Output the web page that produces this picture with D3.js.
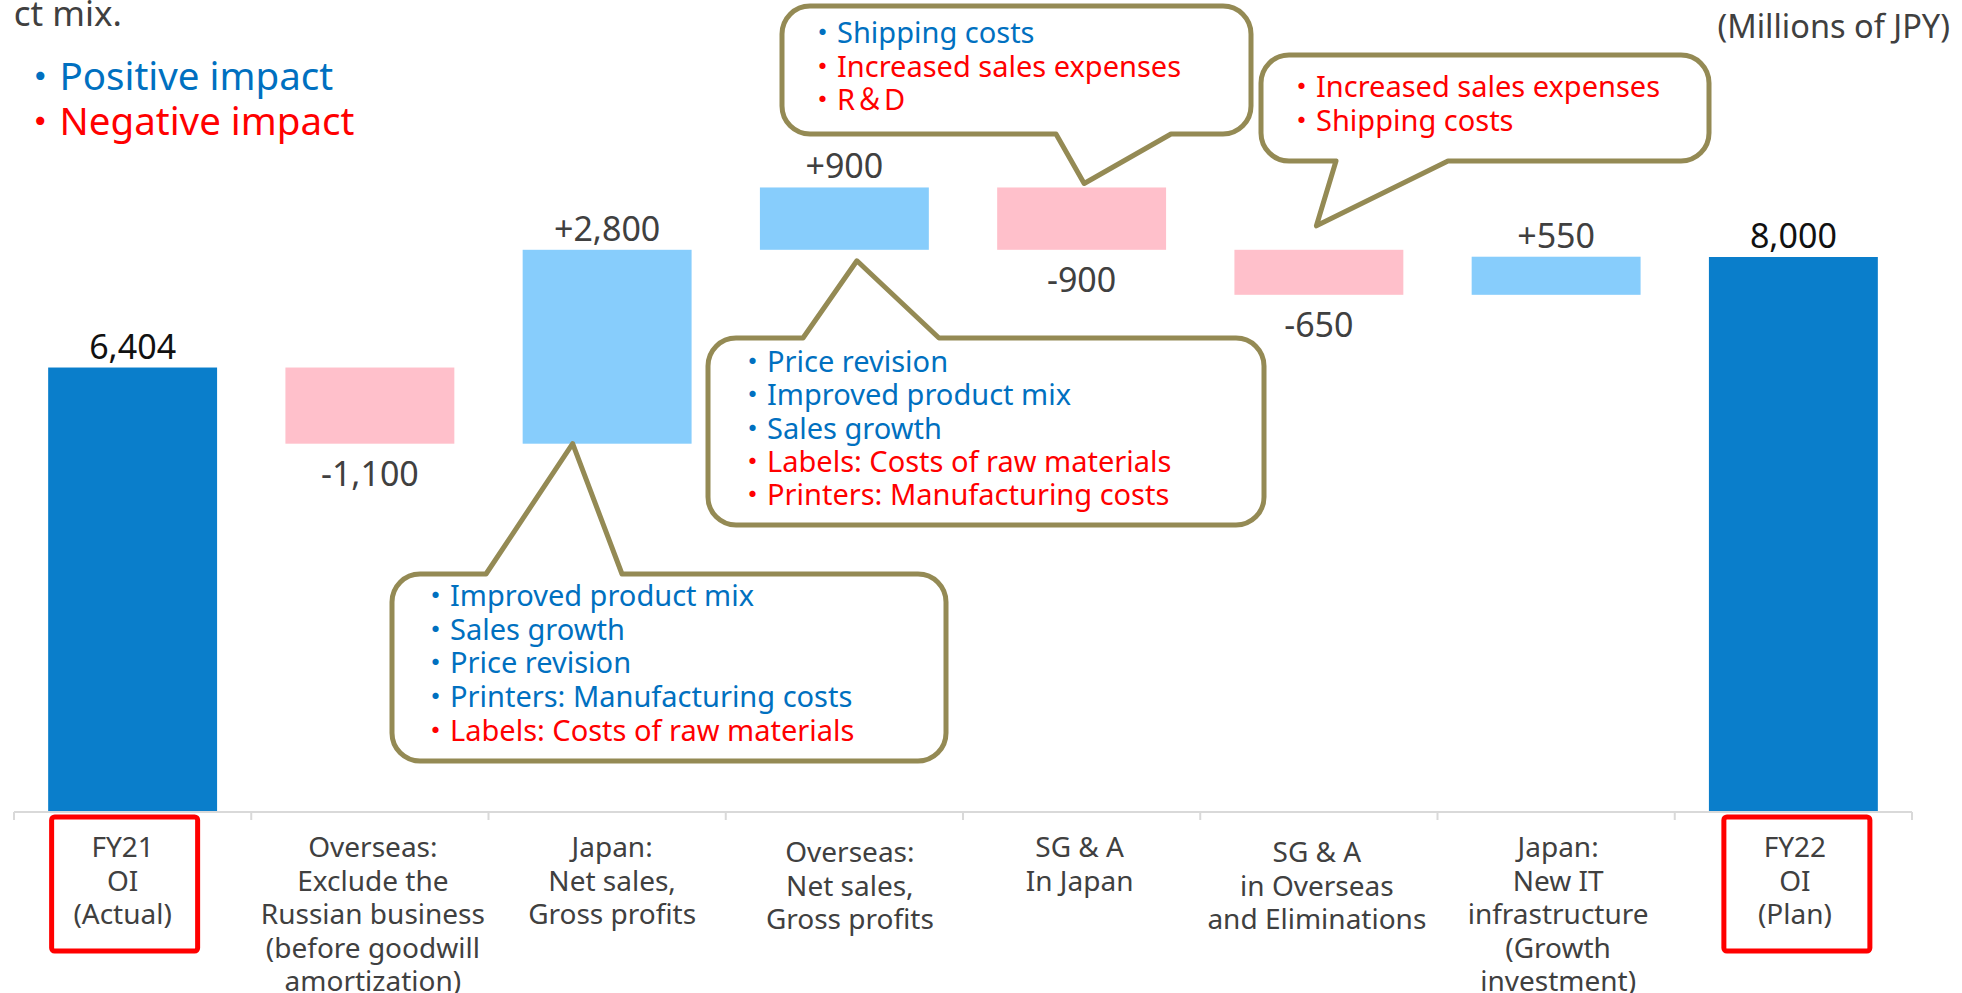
<!DOCTYPE html>
<html>
<head>
<meta charset="utf-8">
<script src="https://cdn.jsdelivr.net/npm/d3@7"></script>
<style>
  body { margin: 0; background: #fff; }
  svg { display: block; }
  text { font-family: "Noto Sans", "Noto Sans CJK JP", sans-serif; }
</style>
</head>
<body>
<div id="chart"></div>
<script>
// ---- data ----
const categories = [
  ["FY21", "OI", "(Actual)"],
  ["Overseas:", "Exclude the", "Russian business", "(before goodwill", "amortization)"],
  ["Japan:", "Net sales,", "Gross profits"],
  ["Overseas:", "Net sales,", "Gross profits"],
  ["SG & A", "In Japan"],
  ["SG & A", "in Overseas", "and Eliminations"],
  ["Japan:", "New IT", "infrastructure", "(Growth", "investment)"],
  ["FY22", "OI", "(Plan)"]
];
const values = [6404, -1100, 2800, 900, -900, -650, 550, 8000];
const barTypes = ["total", "delta", "delta", "delta", "delta", "delta", "delta", "total"];
const highlighted = [0, 7];

const unitLabel = "(Millions of JPY)";
const headText = "ct mix.";
const legendLabels = ["Positive impact", "Negative impact"];
const legendSigns = ["pos", "neg"];

const notesJapanSales = ["Improved product mix", "Sales growth", "Price revision", "Printers: Manufacturing costs", "Labels: Costs of raw materials"];
const signsJapanSales = ["pos", "pos", "pos", "pos", "neg"];
const notesOverseasSales = ["Price revision", "Improved product mix", "Sales growth", "Labels: Costs of raw materials", "Printers: Manufacturing costs"];
const signsOverseasSales = ["pos", "pos", "pos", "neg", "neg"];
const notesSgaJapan = ["Shipping costs", "Increased sales expenses", "R\uFF06D"];
const signsSgaJapan = ["pos", "neg", "neg"];
const notesSgaOverseas = ["Increased sales expenses", "Shipping costs"];
const signsSgaOverseas = ["neg", "neg"];

// ---- layout ----
const W = 1962, H = 993;
const signColor = {pos: "#0070c0", neg: "#ff0000"};
const barColor = {total: "#0a7ecb", up: "#87cdfc", down: "#ffc0cb"};
// small nudges of the category labels, as in the slide
const labelShift = [-10, 3, 5, 5.5, -2, -2, 2, 1.5];
const labelDrop = [0, 0, 0, 5, 0, 5, 0, 0];

const svg = d3.select("#chart").append("svg")
  .attr("width", W)
  .attr("height", H);

const x = d3.scaleBand()
  .domain(d3.range(categories.length))
  .range([14, 1912])
  .paddingInner(0.288)
  .paddingOuter(0.144);

const y = d3.scaleLinear()
  .domain([0, 8000])
  .range([811, 257]);

// waterfall steps
let run = 0;
const bars = values.map(function(v, i) {
  let lo, hi;
  if (barTypes[i] === "total") {
    lo = 0; hi = v; run = v;
  } else {
    lo = Math.min(run, run + v); hi = Math.max(run, run + v); run += v;
  }
  return {i: i, v: v, type: barTypes[i], lo: lo, hi: hi};
});

// top-left cut text and unit
svg.append("text")
  .attr("x", 122).attr("y", 26)
  .attr("text-anchor", "end")
  .attr("font-size", 35)
  .attr("fill", "#404040")
  .text(headText);

svg.append("text")
  .attr("x", 1950).attr("y", 38)
  .attr("text-anchor", "end")
  .attr("font-size", 32.5)
  .attr("fill", "#404040")
  .text(unitLabel);

// legend
svg.selectAll(".legend")
  .data(legendLabels)
  .join("text")
  .attr("class", "legend")
  .attr("x", 21)
  .attr("y", (d, i) => 90 + i * 45)
  .attr("font-size", 38.5)
  .attr("fill", (d, i) => signColor[legendSigns[i]])
  .text(d => "\u30FB" + d);

// axis line with ticks at band edges
const axisY = 812;
const axisG = svg.append("g").attr("class", "axis");
axisG.append("line")
  .attr("x1", x.range()[0]).attr("x2", x.range()[1])
  .attr("y1", axisY).attr("y2", axisY)
  .attr("stroke", "#d9d9d9").attr("stroke-width", 2);
axisG.selectAll(".tick")
  .data(d3.range(categories.length + 1))
  .join("line")
  .attr("class", "tick")
  .attr("x1", d => x.range()[0] + d * x.step())
  .attr("x2", d => x.range()[0] + d * x.step())
  .attr("y1", axisY).attr("y2", axisY + 8)
  .attr("stroke", "#d9d9d9").attr("stroke-width", 2);

// bars
svg.selectAll(".bar")
  .data(bars)
  .join("rect")
  .attr("class", "bar")
  .attr("x", d => x(d.i))
  .attr("width", x.bandwidth())
  .attr("y", d => y(d.hi))
  .attr("height", d => y(d.lo) - y(d.hi))
  .attr("fill", d => d.type === "total" ? barColor.total : (d.v > 0 ? barColor.up : barColor.down));

// value labels
const fmt = d3.format(",");
svg.selectAll(".val")
  .data(bars)
  .join("text")
  .attr("class", "val")
  .attr("x", d => x(d.i) + x.bandwidth() / 2)
  .attr("y", d => (d.type === "total" || d.v > 0) ? y(d.hi) - 9 : y(d.lo) + 42)
  .attr("text-anchor", "middle")
  .attr("font-size", 34)
  .attr("fill", d => d.type === "total" ? "#111" : "#404040")
  .text(d => d.type === "total" ? fmt(d.v) : (d.v > 0 ? "+" : "-") + fmt(Math.abs(d.v)));

// category labels
const catG = svg.selectAll(".cat")
  .data(categories)
  .join("text")
  .attr("class", "cat")
  .attr("text-anchor", "middle")
  .attr("font-size", 28)
  .attr("fill", "#404040");
catG.selectAll("tspan")
  .data((d, i) => d.map(t => ({t: t, i: i})))
  .join("tspan")
  .attr("x", d => x(d.i) + x.bandwidth() / 2 + labelShift[d.i])
  .attr("y", (d, j) => 857 + labelDrop[d.i] + j * 33.5)
  .text(d => d.t);

svg.selectAll(".hl")
  .data(highlighted)
  .join("rect")
  .attr("class", "hl")
  .attr("x", d => x(d) + x.bandwidth() / 2 + labelShift[d] + 2 - 73)
  .attr("y", 817)
  .attr("width", 146)
  .attr("height", 134)
  .attr("rx", 3)
  .attr("fill", "none")
  .attr("stroke", "#ff0000")
  .attr("stroke-width", 5);

// callouts
function calloutPath(b, side, base, apex, r) {
  const x0 = b[0], y0 = b[1], x1 = b[2], y1 = b[3];
  const p = d3.path();
  p.moveTo(x0 + r, y0);
  if (side === "top") {
    p.lineTo(base[0], y0); p.lineTo(apex[0], apex[1]); p.lineTo(base[1], y0);
  }
  p.lineTo(x1 - r, y0);
  p.arcTo(x1, y0, x1, y0 + r, r);
  p.lineTo(x1, y1 - r);
  p.arcTo(x1, y1, x1 - r, y1, r);
  if (side === "bottom") {
    p.lineTo(base[1], y1); p.lineTo(apex[0], apex[1]); p.lineTo(base[0], y1);
  }
  p.lineTo(x0 + r, y1);
  p.arcTo(x0, y1, x0, y1 - r, r);
  p.lineTo(x0, y0 + r);
  p.arcTo(x0, y0, x0 + r, y0, r);
  p.closePath();
  return p.toString();
}

const callouts = [
  {cat: 2, notes: notesJapanSales, signs: signsJapanSales, box: [392, 574, 946, 761], side: "top",
   base: [486, 622], dx: 50, edge: "lo", dy: 0, tx: 421, ty: 606, lh: 33.7},
  {cat: 3, notes: notesOverseasSales, signs: signsOverseasSales, box: [708, 338, 1264, 525], side: "top",
   base: [803, 939], dx: 97, edge: "lo", dy: 11, tx: 738, ty: 372, lh: 33.3},
  {cat: 4, notes: notesSgaJapan, signs: signsSgaJapan, box: [782, 6, 1251, 134], side: "bottom",
   base: [1056, 1171], dx: 87, edge: "hi", dy: -4, tx: 808, ty: 43, lh: 33.5},
  {cat: 5, notes: notesSgaOverseas, signs: signsSgaOverseas, box: [1261, 55, 1709, 161], side: "bottom",
   base: [1336, 1448], dx: 82, edge: "hi", dy: -24, tx: 1287, ty: 97, lh: 34}
];

callouts.forEach(function(c) {
  const bar = bars[c.cat];
  const apex = [x(c.cat) + c.dx, y(bar[c.edge]) + c.dy];
  const g = svg.append("g").attr("class", "callout");
  g.append("path")
    .attr("d", calloutPath(c.box, c.side, c.base, apex, 28))
    .attr("fill", "#fff")
    .attr("stroke", "#948a54")
    .attr("stroke-width", 5)
    .attr("stroke-linejoin", "round");
  g.selectAll("text")
    .data(c.notes)
    .join("text")
    .attr("x", c.tx)
    .attr("y", (d, j) => c.ty + j * c.lh)
    .attr("font-size", 29)
    .attr("fill", (d, j) => signColor[c.signs[j]])
    .text(d => "\u30FB" + d);
});
</script>
</body>
</html>
